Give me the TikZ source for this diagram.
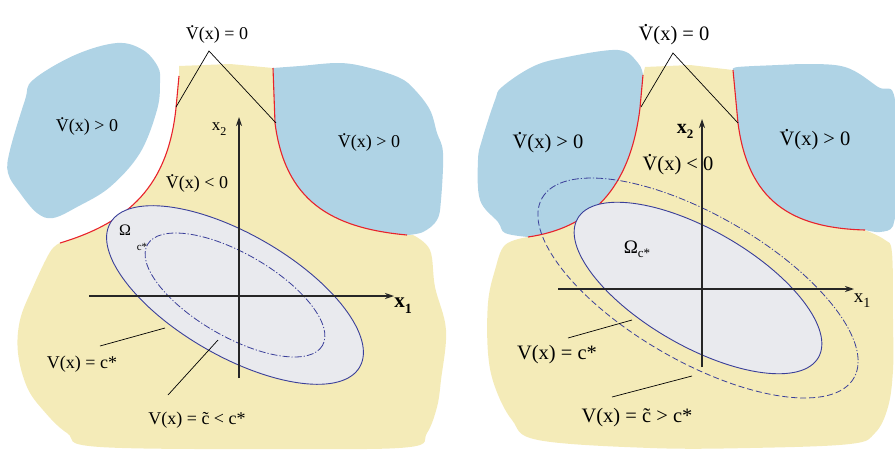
\documentclass[tikz,border=0pt]{standalone}
\usepackage{fontspec}
\setmainfont{Liberation Serif}
\usetikzlibrary{arrows.meta}
\definecolor{yel}{HTML}{F4EBB8}
\definecolor{blu}{HTML}{AFD3E5}
\definecolor{gry}{HTML}{E9EAEE}
\definecolor{nav}{HTML}{3A3F99}
\definecolor{rd}{HTML}{E8222B}
\newcommand{\dotV}{{\ooalign{V\cr\hidewidth\raisebox{0.64em}{.}\hidewidth\cr}}}
\newcommand{\tildec}{{\ooalign{c\cr\hidewidth\char"02DC\hidewidth\cr}}}
\begin{document}
\begin{tikzpicture}[x=1pt,y=-1pt,
  lblA/.style={inner sep=0pt,anchor=base,font=\fontsize{18}{20}\selectfont},
  lblB/.style={inner sep=0pt,anchor=base,font=\fontsize{20.5}{22}\selectfont},
  leader/.style={draw=black,line width=0.7pt},
  redline/.style={draw=rd,line width=1.1pt},
  ell/.style={draw=nav,line width=0.9pt},
  axis/.style={draw=black!85,line width=1.1pt,-{Stealth[length=9pt,width=6pt]}}]
\useasboundingbox (0,0) rectangle (895,450);

% ================= LEFT PANEL =================
\fill[yel] (179,66) -- (230,64) -- (273,68) -- (275,123) .. controls (285,200) and (330,228) .. (407,235) -- (413,235)
  -- plot[smooth,tension=0.6] coordinates {(413,235) (430,250) (435,287) (446,330) (441,380) (437,407) (427,433) (410,447) (300,449) (100,447) (67,433) (43,410) (27,387) (18,353) (20,320) (33,287) (50,252) (60,243)}
  .. controls (130,222) and (168,185) .. (176,108) -- (179,76) -- cycle;
\fill[blu] (273,68) -- (275,123) .. controls (285,200) and (330,228) .. (407,235)
  -- plot[smooth,tension=0.6] coordinates {(407,235) (423,232) (437,220) (441,200) (443,153) (437,133) (430,110) (415,90) (400,78) (370,68) (340,63) (300,66) (273,68)} -- cycle;
\fill[blu] plot[smooth cycle,tension=0.6] coordinates {(33,80) (75,55) (117,43) (143,50) (158,67) (160,83) (157,110) (140,153) (110,187) (77,207) (53,218) (37,213) (20,193) (8,173) (10,150) (25,100)};
\draw[redline] (179,76) -- (176,108) .. controls (168,185) and (130,222) .. (60,243);
\draw[redline] (273,68) -- (275,123) .. controls (285,200) and (330,228) .. (407,235);

\begin{scope}[shift={(235,295)},rotate=-30]
  \filldraw[ell,fill=gry] (0,0) ellipse [x radius=144, y radius=61];
  \draw[draw=nav,line width=0.8pt,dash pattern=on 7pt off 2pt on 1.2pt off 2pt] (0,0) ellipse [x radius=101, y radius=41.5];
\end{scope}

\coordinate (Lx1s) at (89,296); \coordinate (Lx1e) at (394,296);
\coordinate (Lx2s) at (239,378); \coordinate (Lx2e) at (239,117);
\draw[axis] (Lx1s) -- (Lx1e);
\draw[axis] (Lx2s) -- (Lx2e);

\node[lblA] (LV0) at (217,39) {\dotV(x) = 0};
\coordinate (LV0a) at (209,51);
\coordinate (LV0l) at (176,107);
\coordinate (LV0r) at (276,123);
\draw[leader] (LV0l) -- (LV0a) -- (LV0r);
\node[lblA] (LVpos1) at (87,131) {\dotV(x) > 0};
\node[lblA] (LVpos2) at (369,147) {\dotV(x) > 0};
\node[lblA] (LVneg) at (197,188) {\dotV(x) < 0};
\node[lblA,font=\fontsize{17}{18}\selectfont] (Lx2) at (219,130) {x\raisebox{-0.3em}{\fontsize{12}{12}\selectfont 2}};
\node[lblA,font=\fontsize{21}{22}\selectfont\bfseries] (Lx1) at (403,307) {x\raisebox{-0.3em}{\fontsize{14}{14}\selectfont 1}};
\node[lblA,font=\fontsize{16}{17}\selectfont] (LOm) at (125,235) {Ω};
\node[lblA,font=\fontsize{11}{12}\selectfont] (Lcs) at (142,250) {c*};
\node[lblA] (Lc1) at (82,368) {V(x) = c*};
\coordinate (Lc1a) at (100,346); \coordinate (Lc1b) at (165,328);
\draw[leader] (Lc1a) -- (Lc1b);
\node[lblA] (Lc2) at (197,424) {V(x) = \tildec\ < c*};
\coordinate (Lc2a) at (168,395); \coordinate (Lc2b) at (218,340);
\draw[leader] (Lc2a) -- (Lc2b);

% ================= RIGHT PANEL =================
\fill[yel] (645,67) -- (690,65) -- (733,70) -- (738,123) .. controls (748,200) and (790,228) .. (865,230)
  -- plot[smooth,tension=0.6] coordinates {(865,230) (885,240) (892,253) (893,320) (893,370) (888,407) (875,433) (850,444) (750,448) (650,448) (538,440) (512,420) (495,387) (488,353) (488,303) (495,270) (505,245) (528,237)}
  .. controls (590,228) and (630,190) .. (640,108) -- (643,75) -- cycle;
\fill[blu] (643,75) -- (640,108) .. controls (630,190) and (590,228) .. (528,237)
  -- plot[smooth,tension=0.6] coordinates {(528,237) (505,233) (498,222) (480,200) (478,160) (482,140) (495,100) (502,87) (532,67) (562,58) (618,50) (638,63) (643,75)} -- cycle;
\fill[blu] (733,70) -- (738,123) .. controls (748,200) and (790,228) .. (865,230)
  -- plot[smooth,tension=0.6] coordinates {(865,230) (880,232) (893,226) (895,200) (895,100) (878,87) (845,67) (800,64) (778,65) (738,67) (733,70)} -- cycle;
\draw[redline] (643,75) -- (640,108) .. controls (630,190) and (590,228) .. (528,237);
\draw[redline] (733,70) -- (738,123) .. controls (748,200) and (790,228) .. (865,230);

\begin{scope}[shift={(698,288)},rotate=-30]
  \filldraw[ell,fill=gry] (0,0) ellipse [x radius=139, y radius=58];
  \begin{scope}
    \clip (-200,0) rectangle (200,-100);
    \draw[draw=nav,line width=0.8pt,dash pattern=on 7pt off 2pt on 1.2pt off 2pt] (0,0) ellipse [x radius=180, y radius=73];
  \end{scope}
  \begin{scope}
    \clip (-200,0) rectangle (200,100);
    \draw[draw=nav,line width=0.8pt,dash pattern=on 6pt off 3pt] (0,0) ellipse [x radius=180, y radius=73];
  \end{scope}
\end{scope}

\coordinate (Rx1s) at (558,289); \coordinate (Rx1e) at (854,289);
\coordinate (Rx2s) at (702,367); \coordinate (Rx2e) at (702,119);
\draw[axis] (Rx1s) -- (Rx1e);
\draw[axis] (Rx2s) -- (Rx2e);

\node[lblB] (RV0) at (674,40) {\dotV(x) = 0};
\coordinate (RV0a) at (673,53);
\coordinate (RV0l) at (641,107);
\coordinate (RV0r) at (738,123);
\draw[leader] (RV0l) -- (RV0a) -- (RV0r);
\node[lblB] (RVpos1) at (548,148) {\dotV(x) > 0};
\node[lblB] (RVpos2) at (815,145) {\dotV(x) > 0};
\node[lblB] (RVneg) at (678,170) {\dotV(x) < 0};
\node[lblA,font=\fontsize{20}{22}\selectfont\bfseries] (Rx2) at (685,133) {x\raisebox{-0.25em}{\fontsize{13}{13}\selectfont 2}};
\node[lblA,font=\fontsize{19}{20}\selectfont] (Rx1) at (862,302) {x\raisebox{-0.3em}{\fontsize{14}{14}\selectfont 1}};
\node[lblA,font=\fontsize{19}{20}\selectfont] (ROm) at (637,253) {Ω\raisebox{-0.25em}{\fontsize{13}{13}\selectfont c*}};
\node[lblB] (Rc1) at (557,359) {V(x) = c*};
\coordinate (Rc1a) at (568,338); \coordinate (Rc1b) at (632,320);
\draw[leader] (Rc1a) -- (Rc1b);
\node[lblB] (Rc2) at (637,422) {V(x) = \tildec\ > c*};
\coordinate (Rc2a) at (612,397); \coordinate (Rc2b) at (692,376);
\draw[leader] (Rc2a) -- (Rc2b);
\end{tikzpicture}
\end{document}
